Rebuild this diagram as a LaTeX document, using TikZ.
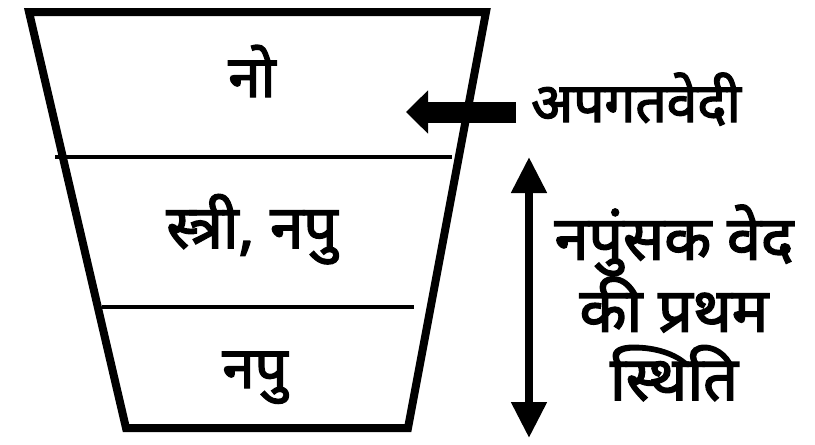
\documentclass[tikz,border=0pt]{standalone}
\usepackage{fontspec}
\newfontfamily\dev[Script=Devanagari,FakeBold=2.5]{Noto Sans}
\usetikzlibrary{arrows.meta}
\tikzset{
  edge/.style={line width=8pt, line join=miter},
  divider/.style={line width=4pt},
  lbl/.style={font=\dev\fontsize{58}{66}\selectfont, inner sep=0pt, anchor=base},
  side/.style={font=\dev\fontsize{61}{68.5}\selectfont, inner sep=0pt, align=center, anchor=base},
  fatarrow/.style={line width=21pt, -{Triangle[length=22pt,width=42pt]}},
  dblarrow/.style={line width=8pt, {Triangle[length=36pt,width=34pt]}-{Triangle[length=36pt,width=34pt]}}
}
\begin{document}
\begin{tikzpicture}[x=1pt,y=-1pt]
\useasboundingbox (0,0) rectangle (815,445);
\coordinate (tl) at (29,12);
\coordinate (tr) at (486,12);
\coordinate (br) at (408,428);
\coordinate (bl) at (126,428);
\draw[edge] (tl) -- (tr) -- (br) -- (bl) -- cycle;
\coordinate (d1l) at (55,157);
\coordinate (d1r) at (452,157);
\coordinate (d2l) at (102,307);
\coordinate (d2r) at (414,307);
\draw[divider] (d1l) -- (d1r);
\draw[divider] (d2l) -- (d2r);
\node[lbl] (no) at (252,97) {नो};
\node[lbl, font=\dev\fontsize{60}{66}\selectfont] (stri) at (252,248) {स्त्री, नपु};
\node[lbl] (napu) at (255,388) {नपु};
\node[lbl, font=\dev\fontsize{55}{60}\selectfont, anchor=base west] (apg) at (531,122) {अपगतवेदी};
\coordinate (tail) at (516,112);
\coordinate (tip) at (406,112);
\draw[fatarrow] (tail) -- (tip);
\node[side] (txt) at (674,400) {नपुंसक वेद\\की प्रथम\\स्थिति};
\coordinate (up) at (529,157);
\coordinate (down) at (529,438);
\draw[dblarrow] (up) -- (down);
\end{tikzpicture}
\end{document}
